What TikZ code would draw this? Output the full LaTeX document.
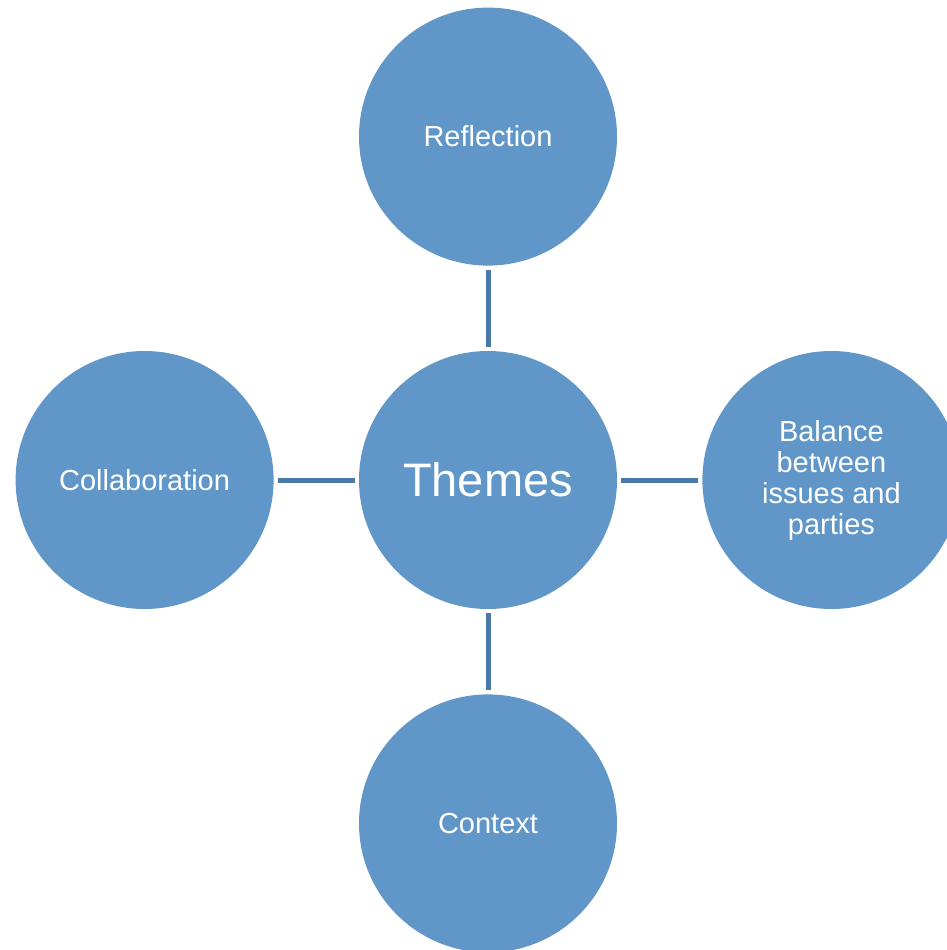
\documentclass[tikz,border=0pt]{standalone}
\usepackage{fontspec}
\setmainfont{Liberation Sans}
\usepackage{xcolor}
\usepackage{tikz}
\usetikzlibrary{positioning}

\definecolor{themefill}{RGB}{96,150,200}
\definecolor{themeline}{RGB}{74,120,168}

\begin{document}
\begin{tikzpicture}[x=1pt,y=1pt,node distance=85pt,
  bubble/.style={circle,fill=themefill,minimum size=258pt,inner sep=0pt,
    text=white,align=center,font=\fontsize{29}{31}\selectfont},
  spoke/.style={draw=themeline,line width=5pt,shorten <=4pt,shorten >=4pt}]
\useasboundingbox (0,0) rectangle (947,-950);
\clip (0,0) rectangle (947,-950);
    % hub and the four themes around it
    \node[bubble,font=\fontsize{47}{50}\selectfont] (Themes) at (488,-480) {Themes};
    \node[bubble,above=of Themes] (Reflection) {Reflection};
    \node[bubble,left=of Themes] (Collab) {Collaboration};
    \node[bubble,right=of Themes] (Balance) {Balance\\between\\issues and\\parties};
    \node[bubble,below=of Themes] (Context) {Context};
   % spokes
   \draw[spoke] (Themes) -- (Reflection);
   \draw[spoke] (Themes) -- (Collab);
   \draw[spoke] (Themes) -- (Balance);
   \draw[spoke] (Themes) -- (Context);
\end{tikzpicture}
\end{document}
